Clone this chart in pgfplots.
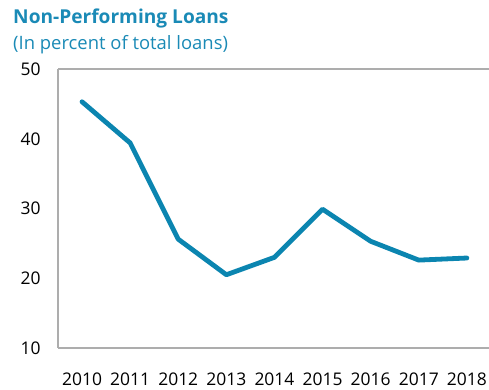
\documentclass[border=0pt]{standalone}
\usepackage{fontspec}
\setmainfont{Open Sans}
\usepackage{pgfplots}
\pgfplotsset{compat=1.18}
\definecolor{lineblue}{HTML}{0B85B0}
\definecolor{titleblue}{HTML}{1A8AB6}
\definecolor{framegray}{HTML}{ADADAD}
\begin{document}
\begin{tikzpicture}
\begin{axis}[
  scale only axis,
  width=431bp, height=279bp,
  xmin=2009.5, xmax=2018.46,
  ymin=10, ymax=50,
  axis x line*=box, axis y line*=left,
  axis line style={draw=framegray, line width=1.3bp},
  major tick length=0pt,
  xtick={2010,2011,2012,2013,2014,2015,2016,2017,2018},
  xticklabels={2010,2011,2012,2013,2014,2015,2016,2017,2018},
  ytick={10,20,30,40,50},
  yticklabels={10,20,30,40,50},
  tick label style={font=\fontsize{17.5}{20}\selectfont, text=black},
  xticklabel style={anchor=base, yshift=-38bp},
  yticklabel style={anchor=base east, xshift=-14bp, yshift=-6.5bp},
  clip=false,
]
\addplot[lineblue, line width=4.8bp, line cap=round, line join=round] coordinates {
  (2010,45.3) (2011,39.4) (2012,25.6) (2013,20.5) (2014,23.0)
  (2015,29.9) (2016,25.3) (2017,22.6) (2018,22.9)
};
\node[anchor=base west, inner sep=0pt, text=titleblue, font=\fontsize{19.2}{21}\selectfont\bfseries] at ([xshift=-45bp,yshift=45bp]rel axis cs:0,1) {Non-Performing Loans};
\node[anchor=base west, inner sep=0pt, text=titleblue, font=\fontsize{18.5}{21}\selectfont] at ([xshift=-45bp,yshift=19bp]rel axis cs:0,1) {(In percent of total loans)};
\end{axis}
\pgfresetboundingbox
\path (current axis.north west) ++(-58bp,69bp) rectangle ++(489bp,-390bp);
\end{tikzpicture}
\end{document}
